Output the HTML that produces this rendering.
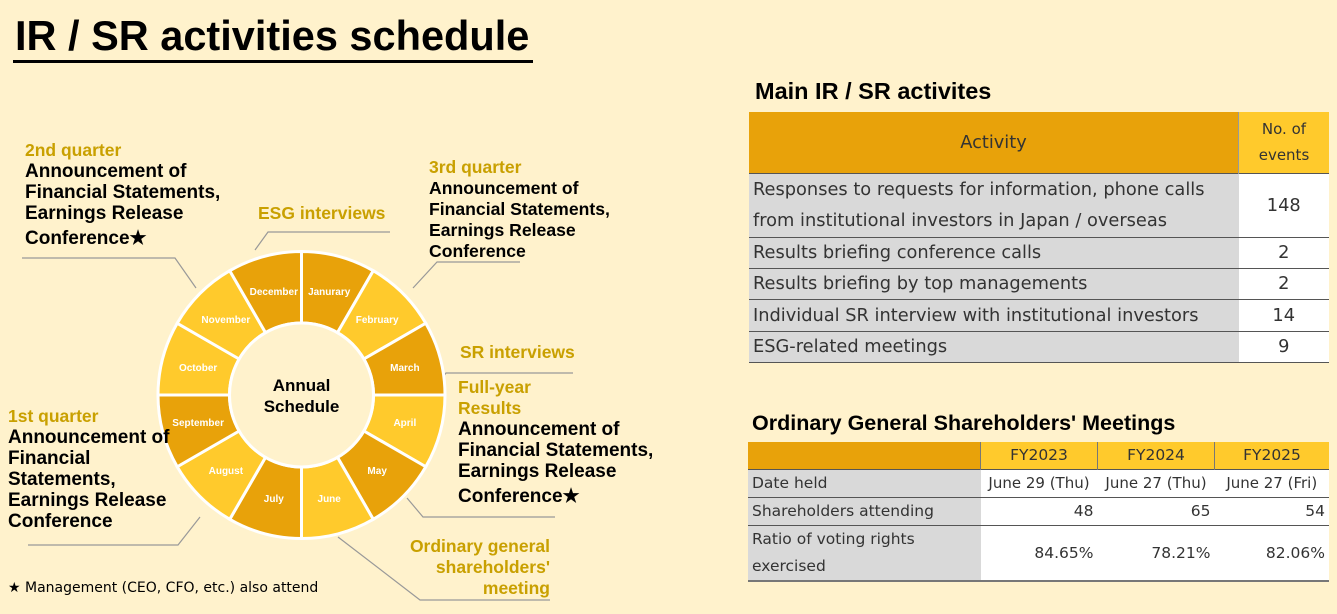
<!DOCTYPE html>
<html><head><meta charset="utf-8"><style>
body{margin:0;width:1337px;height:614px;background:#FFF2CC;position:relative;overflow:hidden;font-family:"Liberation Sans",sans-serif;}
.a{position:absolute;}
.t{font-weight:bold;font-size:19px;line-height:21px;color:#000;}
.g{color:#C9A000;font-weight:bold;font-size:17.5px;}
table{border-collapse:collapse;position:absolute;font-family:"DejaVu Sans","Liberation Sans",sans-serif;color:#333;}
td{padding:0 4px;}
</style></head><body>
<div class="a" style="left:15px;top:12px;font-size:41.5px;font-weight:bold;">IR / SR activities schedule</div>
<div class="a" style="left:13px;top:60px;width:520px;height:3px;background:#000"></div>

<svg class="a" style="left:0;top:0" width="740" height="614">
<g stroke="#999" stroke-width="1.2" fill="none">
<polyline points="22,258 175,258 196,288"/>
<polyline points="255,250 268,232 390,232"/>
<polyline points="413,288 437,262 520,262"/>
<polyline points="432,392 446,373 573,373"/>
<polyline points="407,498 423,517 555,517"/>
<polyline points="338,537 420,600 550,600"/>
<polyline points="200,517 178,545 28,545"/>
</g>
<g id="w"></g>
<circle cx="301.5" cy="395" r="72" fill="#FFF2CC" stroke="#fff" stroke-width="3"/>
<text x="301.5" y="391" text-anchor="middle" font-family="Liberation Sans" font-weight="bold" font-size="17">Annual</text>
<text x="301.5" y="412" text-anchor="middle" font-family="Liberation Sans" font-weight="bold" font-size="17">Schedule</text>
<g id="l" font-family="Liberation Sans" font-weight="bold" font-size="10" fill="#fff" text-anchor="middle"></g>
</svg>
<script>
(function(){
var cx=301.5,cy=395,R=143.5,r=72,ns="http://www.w3.org/2000/svg";
var names=["Janurary","February","March","April","May","June","July","August","September","October","November","December"];
var cols=["#E8A20A","#FFCA2C","#E8A20A","#FFCA2C","#E8A20A","#FFCA2C","#E8A20A","#FFCA2C","#E8A20A","#FFCA2C","#FFCA2C","#E8A20A"];
var w=document.getElementById("w"),l=document.getElementById("l");
function p(a,rr){var t=(a-90)*Math.PI/180;return [cx+rr*Math.cos(t),cy+rr*Math.sin(t)];}
for(var i=0;i<12;i++){
var a0=i*30,a1=a0+30,A=p(a0,R),B=p(a1,R),C=p(a1,r),D=p(a0,r);
var e=document.createElementNS(ns,"path");
e.setAttribute("d","M"+A+" A"+R+","+R+" 0 0 1 "+B+" L"+C+" A"+r+","+r+" 0 0 0 "+D+"Z");
e.setAttribute("fill",cols[i]);e.setAttribute("stroke","#fff");e.setAttribute("stroke-width","3");
w.appendChild(e);
var m=p(a0+15,107),tx=document.createElementNS(ns,"text");
tx.setAttribute("x",m[0]);tx.setAttribute("y",m[1]+3.5);tx.textContent=names[i];l.appendChild(tx);
}
})();
</script>

<div class="a g" style="left:25px;top:140px;">2nd quarter</div>
<div class="a t" style="left:25px;top:161px;">Announcement of<br>Financial Statements,<br>Earnings Release<br><span style="line-height:30px">Conference★</span></div>
<div class="a g" style="left:258px;top:203px;">ESG interviews</div>
<div class="a g" style="left:429px;top:157px;">3rd quarter</div>
<div class="a t" style="left:429px;top:178px;font-size:17.6px;">Announcement of<br>Financial Statements,<br>Earnings Release<br>Conference</div>
<div class="a g" style="left:460px;top:342px;">SR interviews</div>
<div class="a g" style="left:458px;top:377px;line-height:21px;">Full-year<br>Results</div>
<div class="a t" style="left:458px;top:419px;">Announcement of<br>Financial Statements,<br>Earnings Release<br><span style="line-height:30px">Conference★</span></div>
<div class="a g" style="left:8px;top:406px;">1st quarter</div>
<div class="a t" style="left:8px;top:427px;">Announcement of<br>Financial<br>Statements,<br>Earnings Release<br>Conference</div>
<div class="a g" style="left:380px;top:536px;width:170px;text-align:right;line-height:21px;">Ordinary general<br>shareholders'<br>meeting</div>
<div class="a" style="left:8px;top:580px;font-size:14px;font-family:'DejaVu Sans',sans-serif;">★ Management (CEO, CFO, etc.) also attend</div>

<div class="a" style="left:755px;top:78px;font-size:23.5px;font-weight:bold;">Main IR / SR activites</div>
<table style="left:749px;top:112px;width:580px;font-size:17.8px;">
<tr style="height:61px"><td style="background:#E8A20A;text-align:center;border-right:1px solid #999">Activity</td><td style="background:#FFCA2C;text-align:center;width:82px;font-size:15px;line-height:26px">No. of<br>events</td></tr>
<tr style="height:64px;border-top:1px solid #555"><td style="background:#D9D9D9;line-height:31px">Responses to requests for information, phone calls<br>from institutional investors in Japan / overseas</td><td style="background:#fff;text-align:center">148</td></tr>
<tr style="height:31px;border-top:1px solid #555"><td style="background:#D9D9D9">Results briefing conference calls</td><td style="background:#fff;text-align:center">2</td></tr>
<tr style="height:31px;border-top:1px solid #555"><td style="background:#D9D9D9">Results briefing by top managements</td><td style="background:#fff;text-align:center">2</td></tr>
<tr style="height:32px;border-top:1px solid #555"><td style="background:#D9D9D9">Individual SR interview with institutional investors</td><td style="background:#fff;text-align:center">14</td></tr>
<tr style="height:31px;border-top:1px solid #555;border-bottom:1px solid #555"><td style="background:#D9D9D9">ESG-related meetings</td><td style="background:#fff;text-align:center">9</td></tr>
</table>

<div class="a" style="left:752px;top:411px;font-size:21.5px;font-weight:bold;">Ordinary General Shareholders' Meetings</div>
<table style="left:748px;top:442px;width:581px;font-size:15.5px;">
<tr style="height:27px"><td style="background:#E8A20A;width:224px"></td><td style="background:#FFCA2C;text-align:center;width:108px;border-left:1px solid #777">FY2023</td><td style="background:#FFCA2C;text-align:center;width:108px;border-left:1px solid #777">FY2024</td><td style="background:#FFCA2C;text-align:center;border-left:1px solid #777">FY2025</td></tr>
<tr style="height:28px;border-top:1px solid #555"><td style="background:#D9D9D9">Date held</td><td style="background:#fff;text-align:center;padding:0;font-size:15px">June 29 (Thu)</td><td style="background:#fff;text-align:center;padding:0;font-size:15px">June 27 (Thu)</td><td style="background:#fff;text-align:center;padding:0;font-size:15px">June 27 (Fri)</td></tr>
<tr style="height:28px;border-top:1px solid #555"><td style="background:#D9D9D9">Shareholders attending</td><td style="background:#fff;text-align:right">48</td><td style="background:#fff;text-align:right">65</td><td style="background:#fff;text-align:right">54</td></tr>
<tr style="height:55px;border-top:1px solid #555;border-bottom:2px solid #777"><td style="background:#D9D9D9;line-height:27px">Ratio of voting rights<br>exercised</td><td style="background:#fff;text-align:right">84.65%</td><td style="background:#fff;text-align:right">78.21%</td><td style="background:#fff;text-align:right">82.06%</td></tr>
</table>
</body></html>
